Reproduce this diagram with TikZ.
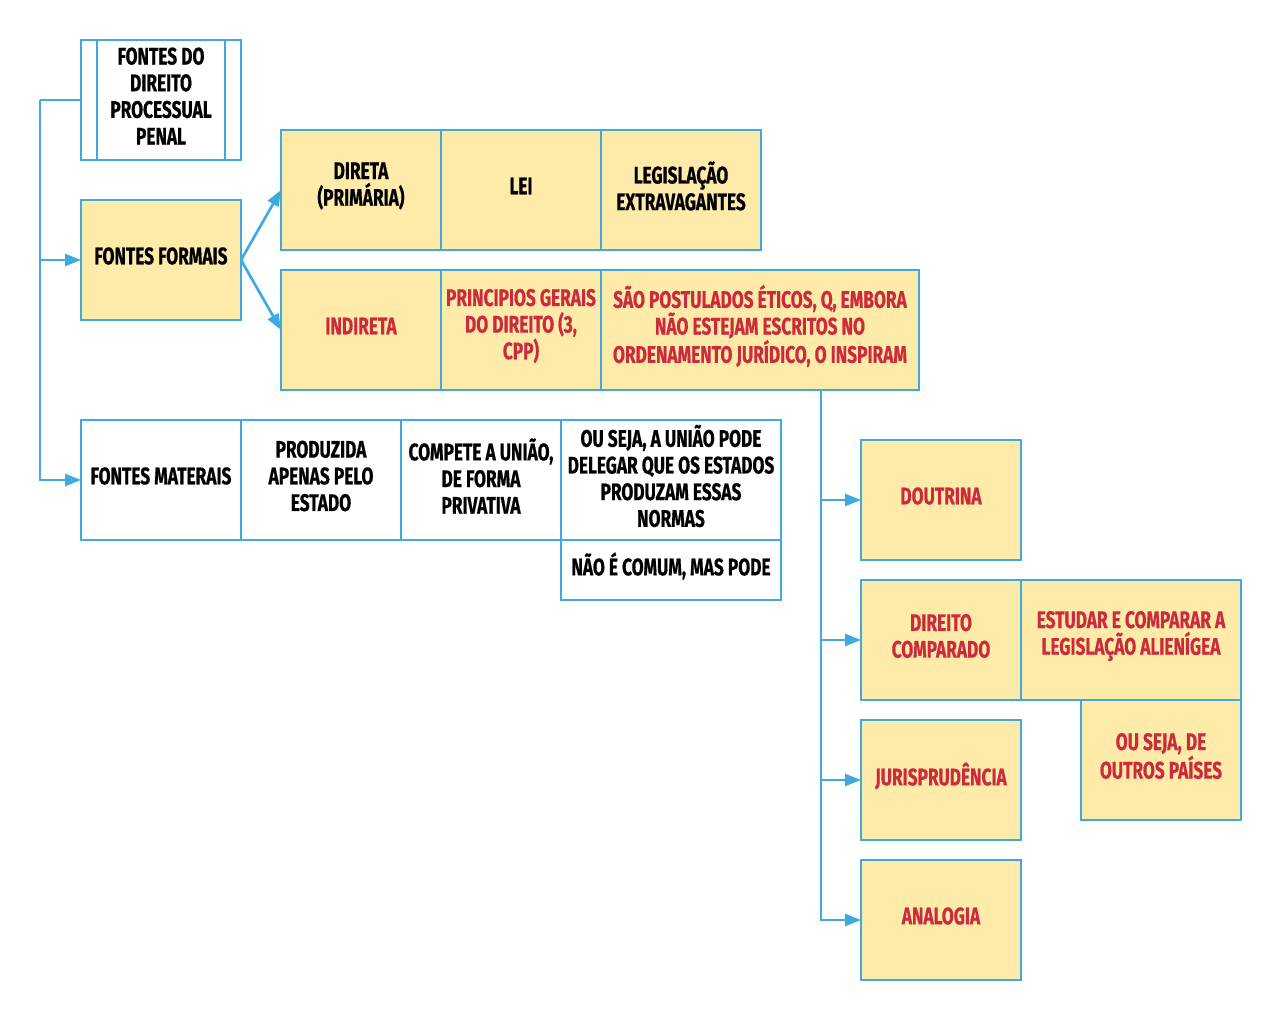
\documentclass[tikz,border=0pt]{standalone}
\usepackage{fontspec}
\setmainfont{Fira Sans}[FakeStretch=0.72,BoldFeatures={FakeBold=0.6}]
\usetikzlibrary{arrows.meta}
\definecolor{lblue}{HTML}{3FA9E0}
\definecolor{ylw}{HTML}{FFEBA9}
\definecolor{rd}{HTML}{CB2B3B}
\newcommand\bx[6]{%
  \node[#1] (#2) at (#3) {};
  \node[txt,text=#4,#5] (#2t) at ([yshift=3pt]#2.center) {#6};}
\begin{document}
\begin{tikzpicture}[x=0.75pt,y=-0.75pt,
  base/.style={draw=lblue, line width=2pt, inner sep=0pt, minimum height=90pt, minimum width=120pt, outer sep=0pt},
  txt/.style={inner sep=0pt, align=center, font=\fontsize{18}{20}\selectfont\bfseries},
  ybox/.style={base, fill=ylw},
  wbox/.style={base, fill=white},
  conn/.style={draw=lblue, line width=2pt, -{Triangle[length=12pt,width=9pt]}},
  plain/.style={draw=lblue, line width=2pt}]
\useasboundingbox (0,0) rectangle (1281,1020);
% root
\bx{wbox}{root}{161,100}{black}{}{FONTES DO\\DIREITO\\PROCESSUAL\\PENAL}
\draw[plain] (root.north west) ++(16,0) -- ++(0,120);
\draw[plain] (root.north east) ++(-16,0) -- ++(0,120);
% formais
\bx{ybox}{formais}{161,260}{black}{}{FONTES FORMAIS}
\bx{ybox}{direta}{361,190}{black}{}{DIRETA\\(PRIMÁRIA)}
\bx{ybox}{lei}{521,190}{black}{}{LEI}
\bx{ybox}{legis}{681,190}{black}{}{LEGISLAÇÃO\\EXTRAVAGANTES}
\bx{ybox}{indireta}{361,330}{rd}{}{INDIRETA}
\bx{ybox}{principios}{521,330}{rd}{}{PRINCIPIOS GERAIS\\DO DIREITO (3,\\CPP)}
\bx{ybox,minimum width=238.5pt}{postulados}{760,330}{rd}{}{SÃO POSTULADOS ÉTICOS, Q, EMBORA\\NÃO ESTEJAM ESCRITOS NO\\ORDENAMENTO JURÍDICO, O INSPIRAM}
% materais
\bx{wbox}{materais}{161,480}{black}{}{FONTES MATERAIS}
\bx{wbox}{produzida}{321,480}{black}{}{PRODUZIDA\\APENAS PELO\\ESTADO}
\bx{wbox}{compete}{481,480}{black}{}{COMPETE A UNIÃO,\\DE FORMA\\PRIVATIVA}
\bx{wbox,minimum width=165pt}{ouseja}{671,480}{black}{}{OU SEJA, A UNIÃO PODE\\DELEGAR QUE OS ESTADOS\\PRODUZAM ESSAS\\NORMAS}
\bx{wbox,minimum width=165pt,minimum height=45pt}{naocomum}{671,570}{black}{}{NÃO É COMUM, MAS PODE}
% right column
\bx{ybox}{doutrina}{941,500}{rd}{}{DOUTRINA}
\bx{ybox}{dircomp}{941,640}{rd}{}{DIREITO\\COMPARADO}
\bx{ybox,minimum width=165pt}{estudar}{1131,640}{rd}{}{ESTUDAR E COMPARAR A\\LEGISLAÇÃO ALIENÍGEA}
\bx{ybox}{outros}{1161,760}{rd}{}{OU SEJA, DE\\OUTROS PAÍSES}
\bx{ybox}{juris}{941,780}{rd}{}{JURISPRUDÊNCIA}
\bx{ybox}{analogia}{941,920}{rd}{}{ANALOGIA}
% connectors
\coordinate (lefttrunk) at (40,100);
\draw[plain] (root.west) -- (lefttrunk);
\draw[conn] (lefttrunk) |- (formais.west);
\draw[conn] (lefttrunk) |- (materais.west);
\draw[conn] (formais.east) -- (direta.west);
\draw[conn] (formais.east) -- (indireta.west);
\coordinate (trunk) at (821,390);
\draw[conn] (trunk) |- (doutrina.west);
\draw[conn] (trunk) |- (dircomp.west);
\draw[conn] (trunk) |- (juris.west);
\draw[conn] (trunk) |- (analogia.west);
\end{tikzpicture}
\end{document}
